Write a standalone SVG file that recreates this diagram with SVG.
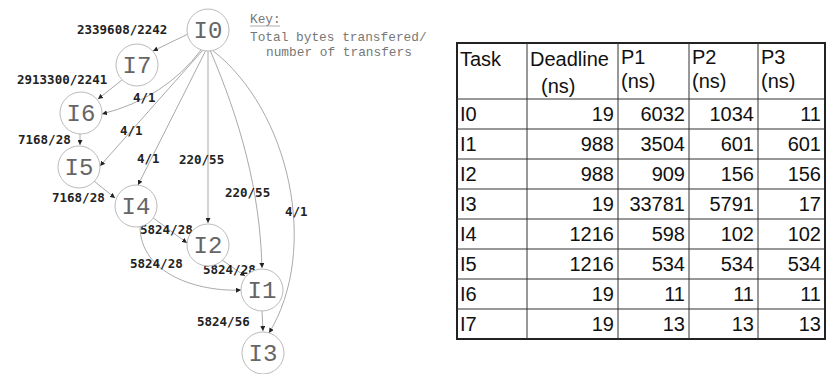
<svg xmlns="http://www.w3.org/2000/svg" width="827" height="374" viewBox="0 0 827 374">
<defs>
<style>
.node circle{fill:#fff;stroke:#bbb;stroke-width:1}
.node text{font-family:"Liberation Mono","Courier New",monospace;font-size:24px;fill:#666;text-anchor:middle}
.edge{fill:none;stroke:#aaa;stroke-width:1}
.lbl{font-family:"DejaVu Sans Mono",monospace;font-weight:bold;font-size:12.5px;fill:#222}
.key{font-family:"Liberation Mono","Courier New",monospace;font-size:12.8px;fill:#777}
.tt{font-family:"Liberation Sans",Arial,sans-serif;font-size:20px;fill:#111}
.num{text-anchor:end}
.grid{stroke:#333;stroke-width:1}
</style>
<marker id="ah" viewBox="0 0 10 10" refX="10" refY="5" markerWidth="5" markerHeight="5" markerUnits="userSpaceOnUse" orient="auto">
<path d="M0,0 L10,5 L0,10 z" fill="#222"/>
</marker>
</defs>
<rect width="827" height="374" fill="#fff"/>

<g id="connectors">
<path class="edge" marker-end="url(#ah)" d="M188,34 L153,51"/>
<path class="edge" marker-end="url(#ah)" d="M122,80 L98,99"/>
<path class="edge" marker-end="url(#ah)" d="M201,50 Q165,98 102,114"/>
<path class="edge" marker-end="url(#ah)" d="M203,50 L100,166"/>
<path class="edge" marker-end="url(#ah)" d="M80,134 L80,145"/>
<path class="edge" marker-end="url(#ah)" d="M206,50 L138,185"/>
<path class="edge" marker-end="url(#ah)" d="M94,181 L115,198"/>
<path class="edge" marker-end="url(#ah)" d="M208,50 L208,223"/>
<path class="edge" marker-end="url(#ah)" d="M152,217 L187,243"/>
<path class="edge" marker-end="url(#ah)" d="M210,50 C240,120 260,190 262,268"/>
<path class="edge" marker-end="url(#ah)" d="M140,226 C140,275 200,292 241,290"/>
<path class="edge" marker-end="url(#ah)" d="M222,260 L245,276"/>
<path class="edge" marker-end="url(#ah)" d="M262,311 L263,331"/>
<path class="edge" marker-end="url(#ah)" d="M212,50 C290,110 320,250 269,333"/>
<text class="lbl" x="77" y="34">2339608/2242</text>
<text class="lbl" x="17" y="84">2913300/2241</text>
<text class="lbl" x="133" y="102">4/1</text>
<text class="lbl" x="120" y="135">4/1</text>
<text class="lbl" x="18" y="144">7168/28</text>
<text class="lbl" x="137" y="163">4/1</text>
<text class="lbl" x="179" y="164">220/55</text>
<text class="lbl" x="52" y="202">7168/28</text>
<text class="lbl" x="140" y="234">5824/28</text>
<text class="lbl" x="225" y="197">220/55</text>
<text class="lbl" x="285" y="216">4/1</text>
<text class="lbl" x="130" y="268">5824/28</text>
<text class="lbl" x="203" y="274">5824/28</text>
<text class="lbl" x="197" y="326">5824/56</text>
</g>

<g id="I0" class="node"><circle cx="208" cy="30" r="21"/><text x="208" y="38">I0</text></g>
<g id="I7" class="node"><circle cx="137" cy="65" r="21"/><text x="137" y="73">I7</text></g>
<g id="I6" class="node"><circle cx="81" cy="113" r="21"/><text x="81" y="121">I6</text></g>
<g id="I5" class="node"><circle cx="79" cy="167" r="21"/><text x="79" y="175">I5</text></g>
<g id="I4" class="node"><circle cx="136" cy="206" r="21"/><text x="136" y="214">I4</text></g>
<g id="I2" class="node"><circle cx="208" cy="245" r="21"/><text x="208" y="253">I2</text></g>
<g id="I1" class="node"><circle cx="262" cy="290" r="21"/><text x="262" y="298">I1</text></g>
<g id="I3" class="node"><circle cx="263" cy="353" r="21"/><text x="263" y="361">I3</text></g>

<g id="key">
<text class="key" x="250" y="23">Key:</text>
<line x1="250" y1="26" x2="280" y2="26" stroke="#999" stroke-width="0.8"/>
<text class="key" x="250" y="41">Total bytes transfered/</text>
<text class="key" x="266" y="56">number of transfers</text>
</g>

<g id="table">
<rect x="457" y="43" width="368" height="296" fill="none" stroke="#222" stroke-width="2"/>
<g class="grid">
<line x1="527" y1="43" x2="527" y2="339"/>
<line x1="618" y1="43" x2="618" y2="339"/>
<line x1="689" y1="43" x2="689" y2="339"/>
<line x1="758" y1="43" x2="758" y2="339"/>
<line x1="457" y1="99" x2="825" y2="99"/>
<line x1="457" y1="129" x2="825" y2="129"/>
<line x1="457" y1="159" x2="825" y2="159"/>
<line x1="457" y1="189" x2="825" y2="189"/>
<line x1="457" y1="219" x2="825" y2="219"/>
<line x1="457" y1="249" x2="825" y2="249"/>
<line x1="457" y1="279" x2="825" y2="279"/>
<line x1="457" y1="309" x2="825" y2="309"/>
</g>
<g class="tt">
<text x="460" y="66">Task</text>
<text x="530" y="66">Deadline</text>
<text x="541" y="93">(ns)</text>
<text x="621" y="64">P1</text>
<text x="621" y="88">(ns)</text>
<text x="692" y="64">P2</text>
<text x="692" y="88">(ns)</text>
<text x="761" y="64">P3</text>
<text x="761" y="88">(ns)</text>
<text x="460" y="121">I0</text>
<text x="460" y="151">I1</text>
<text x="460" y="181">I2</text>
<text x="460" y="211">I3</text>
<text x="460" y="241">I4</text>
<text x="460" y="271">I5</text>
<text x="460" y="301">I6</text>
<text x="460" y="331">I7</text>
</g>
<g class="tt num">
<text x="614" y="121">19</text><text x="685" y="121">6032</text><text x="754" y="121">1034</text><text x="821" y="121">11</text>
<text x="614" y="151">988</text><text x="685" y="151">3504</text><text x="754" y="151">601</text><text x="821" y="151">601</text>
<text x="614" y="181">988</text><text x="685" y="181">909</text><text x="754" y="181">156</text><text x="821" y="181">156</text>
<text x="614" y="211">19</text><text x="685" y="211">33781</text><text x="754" y="211">5791</text><text x="821" y="211">17</text>
<text x="614" y="241">1216</text><text x="685" y="241">598</text><text x="754" y="241">102</text><text x="821" y="241">102</text>
<text x="614" y="271">1216</text><text x="685" y="271">534</text><text x="754" y="271">534</text><text x="821" y="271">534</text>
<text x="614" y="301">19</text><text x="685" y="301">11</text><text x="754" y="301">11</text><text x="821" y="301">11</text>
<text x="614" y="331">19</text><text x="685" y="331">13</text><text x="754" y="331">13</text><text x="821" y="331">13</text>
</g>
</g>
</svg>
